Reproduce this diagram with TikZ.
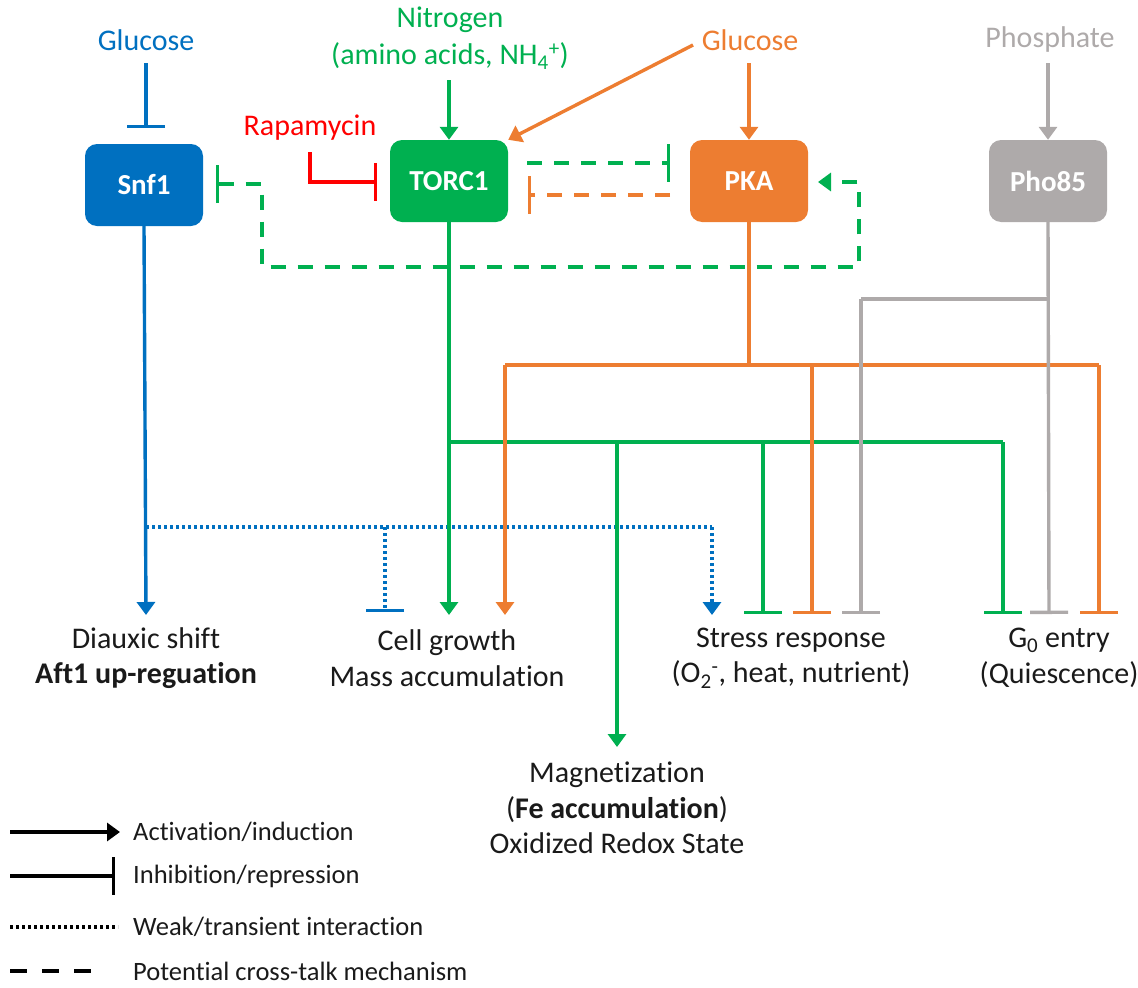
\documentclass[tikz,border=0pt]{standalone}
\usepackage{fontspec}
\setmainfont{Carlito}[Ligatures={NoCommon}]
\usetikzlibrary{arrows.meta}
\definecolor{cblue}{HTML}{0070C0}
\definecolor{cgreen}{HTML}{00B050}
\definecolor{corange}{HTML}{ED7D31}
\definecolor{cgray}{HTML}{AEAAAA}
\definecolor{cred}{HTML}{FF0000}
\definecolor{ctext}{HTML}{1A1A1A}
\begin{document}
\begin{tikzpicture}[x=1pt,y=-1pt,
  box/.style={rounded corners=12pt, minimum width=118pt, minimum height=82pt, text=white,
    font=\fontsize{29}{32}\selectfont\bfseries, inner sep=0pt},
  lab/.style={font=\fontsize{30}{35.5}\selectfont, align=center, inner sep=0pt, text=ctext},
  src/.style={font=\fontsize{30}{37}\selectfont, align=center, inner sep=0pt},
  leg/.style={font=\fontsize{26.5}{30}\selectfont, anchor=west, inner sep=0pt, text=ctext},
  ln/.style={line width=3.4pt},
  act/.style={ln,-{Triangle[width=18pt,length=13pt]}},
  inh/.style={ln,-{Bar[width=38pt]}},
  gd/.style={dash pattern=on 15pt off 12pt},
  dots/.style={dash pattern=on 3pt off 3pt},
]
\useasboundingbox (0,0) rectangle (1138,988);

% main boxes
\node[box, fill=cblue]   (snf)  at (144,185) {Snf1};
\node[box, fill=cgreen]  (torc) at (449,181) {TORC1};
\node[box, fill=corange] (pka)  at (749,181) {PKA};
\node[box, fill=cgray]   (pho)  at (1048,181) {Pho85};

% inputs
\node[src, text=cblue]   (gluA) at (146,40) {Glucose};
\node[src, text=cgreen]  (nit)  at (450,38) {Nitrogen\\(amino acids, NH\textsubscript{4}\textsuperscript{+})};
\node[src, text=corange] (gluB) at (750,40) {Glucose};
\node[src, text=cgray]   (phos) at (1050,40) {Phosphate};
\node[src, text=cred]    (rapa) at (310,128) {Rapamycin};

% outputs
\node[lab] (diaux) at (146,658) {Diauxic shift\\\textbf{Aft1 up-reguation}};
\node[lab] (cell)  at (447,658) {Cell growth\\Mass accumulation};
\node[lab] (stress) at (791,658) {Stress response\\(O\textsubscript{2}\textsuperscript{-}, heat, nutrient)};
\node[lab] (gzero) at (1059,658) {G\textsubscript{0} entry\\(Quiescence)};
\node[lab] (magn)  at (617,808) {Magnetization\\(\textbf{Fe accumulation})\\Oxidized Redox State};

% junction coordinates
\coordinate (gbus) at (449,442);
\coordinate (obus) at (749,365);
\coordinate (pbus) at (1049,299);
\coordinate (bbus) at (146,527);

% input connectors
\draw[inh, cblue] (146,63) -- (146,128);
\draw[act, cgreen] (449,80) -- (torc.north);
\draw[act, corange] (693,45) -- (torc.north east);
\draw[act, corange] (749,63) -- (pka.north);
\draw[act, cgray] (1048,63) -- (pho.north);
\draw[inh, cred] (310,152) -- (310,182) -- (377,182);

% cross-talk between TORC1 and PKA
\draw[inh, cgreen, gd] (527,163) -- (670,163);
\draw[inh, corange, gd] (670,195) -- (528,195);
% feedback dashed loop
\draw[ln, cgreen, gd, {Bar[width=38pt]}-{Triangle[width=18pt,length=13pt]}]
  (216,184) -- (262,184) -- (262,267) -- (859,267) -- (859,182) -- (818,182);

% Snf1 outputs
\draw[act, cblue] (snf.south) -- (146,615);
\draw[ln, cblue, dots] (bbus) -- (712,527);
\draw[act, cblue, dots] (712,527) -- (712,615);
\draw[inh, cblue, dots] (385,527) -- (385,612);

% TORC1 outputs
\draw[act, cgreen] (torc.south) -- (449,615);
\draw[ln, cgreen] (gbus) -- (1003,442);
\draw[inh, cgreen] (1003,442) -- (1003,614);
\draw[inh, cgreen] (763,442) -- (763,614);
\draw[act, cgreen] (617,442) -- (617,747);

% PKA outputs
\draw[ln, corange] (pka.south) -- (obus);
\draw[ln, corange] (505,365) -- (1099,365);
\draw[act, corange] (505,365) -- (505,615);
\draw[inh, corange] (812,365) -- (812,614);
\draw[inh, corange] (1099,365) -- (1099,614);

% Pho85 outputs
\draw[inh, cgray] (pho.south) -- (1049,614);
\draw[ln, cgray] (pbus) -- (861,299);
\draw[inh, cgray] (861,299) -- (861,614);

% legend
\node[leg] (l1) at (133,832) {Activation/induction};
\node[leg] (l2) at (133,876) {Inhibition/repression};
\node[leg] (l3) at (133,927) {Weak/transient interaction};
\node[leg] (l4) at (133,971) {Potential cross-talk mechanism};
\coordinate (s1) at (10,832);
\coordinate (s2) at (10,876);
\coordinate (s3) at (10,927);
\coordinate (s4) at (10,971);
\draw[act, black] (s1) -- ([xshift=-13pt]l1.west);
\draw[inh, black] (s2) -- ([xshift=-18pt]l2.west);
\draw[ln, black, dots] (s3) -- ([xshift=-15pt]l3.west);
\draw[ln, black, dash pattern=on 17pt off 15pt] (s4) -- ([xshift=-28pt]l4.west);
\end{tikzpicture}
\end{document}
